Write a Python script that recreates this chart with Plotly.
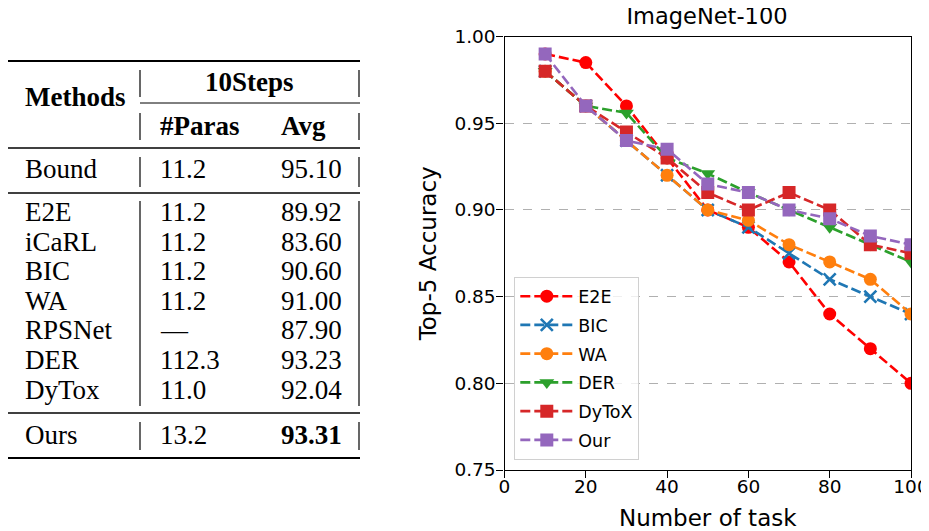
import plotly.graph_objects as go

# ---------------- data ----------------
tasks = [10, 20, 30, 40, 50, 60, 70, 80, 90, 100]
e2e   = [0.990, 0.985, 0.960, 0.930, 0.900, 0.890, 0.870, 0.840, 0.820, 0.800]
bic   = [0.980, 0.960, 0.940, 0.920, 0.900, 0.890, 0.875, 0.860, 0.850, 0.840]
wa    = [0.980, 0.960, 0.940, 0.920, 0.900, 0.894, 0.880, 0.870, 0.860, 0.840]
der   = [0.980, 0.960, 0.956, 0.930, 0.921, 0.910, 0.900, 0.890, 0.880, 0.870]
dytox = [0.980, 0.960, 0.945, 0.930, 0.910, 0.900, 0.910, 0.900, 0.880, 0.875]
our   = [0.990, 0.960, 0.940, 0.935, 0.915, 0.910, 0.900, 0.895, 0.885, 0.880]

series_names = ["E2E", "BIC", "WA", "DER", "DyToX", "Our"]
series_vals = [e2e, bic, wa, der, dytox, our]
series_colors = ["#ff0000", "#1f77b4", "#ff7f0e", "#2ca02c", "#d62728", "#9467bd"]
series_symbols = ["circle", "x-thin", "circle", "triangle-down", "square", "square"]

y_ticks = [0.75, 0.80, 0.85, 0.90, 0.95, 1.00]
x_ticks = [0, 20, 40, 60, 80, 100]

# table data
tbl_methods = ["E2E", "iCaRL", "BIC", "WA", "RPSNet", "DER", "DyTox"]
tbl_paras = ["11.2", "11.2", "11.2", "11.2", "—", "112.3", "11.0"]
tbl_avg = ["89.92", "83.60", "90.60", "91.00", "87.90", "93.23", "92.04"]
bound_row = ["Bound", "11.2", "95.10"]
ours_row = ["Ours", "13.2", "93.31"]

# ---------------- layout helpers ----------------
# the page body has an 8px margin, so the figure is drawn 8px smaller and
# positions below are given in the reference's window pixels.
OFF = 8
W, H = 929 - OFF, 531 - OFF
def px(x):
    return max(0.0, (x - OFF) / W)
def py(y):
    return 1 - (y - OFF) / H

fig = go.Figure()

for name, vals, col, sym in zip(series_names, series_vals, series_colors, series_symbols):
    is_x = sym == "x-thin"
    fig.add_trace(go.Scatter(
        x=tasks, y=vals, name=name, mode="lines+markers",
        line=dict(color=col, width=2.6, dash="10px,4px"),
        marker=dict(symbol=sym, size=12 if is_x else 13, color=col,
                    line=dict(color=col, width=2.6 if is_x else 0)),
        legendgroup=name,
    ))

# ---------------- table ----------------
ann = []
shapes = []
SERIF = "Liberation Serif"
FS = 27

def txt(x, y, s, anchor="left", bold=False):
    ann.append(dict(xref="paper", yref="paper", x=px(x), y=py(y), text=(f"<b>{s}</b>" if bold else s),
                    showarrow=False, xanchor=anchor, yanchor="middle",
                    font=dict(family=SERIF, size=FS, color="black")))

def hline(x0, x1, y, w):
    shapes.append(dict(type="line", xref="paper", yref="paper", x0=px(x0), x1=px(x1), y0=py(y), y1=py(y),
                       line=dict(color="black", width=w)))

def vline(x, y0, y1, w=1.2):
    shapes.append(dict(type="line", xref="paper", yref="paper", x0=px(x), x1=px(x), y0=py(y0), y1=py(y1),
                       line=dict(color="black", width=w)))

COL1, COL2, COL3 = 23, 158, 279
VL, VR = 140, 359

hline(6, 360, 61, 2.2)
hline(140, 360, 103, 1)
hline(6, 360, 148, 1.3)
hline(6, 360, 193, 1.3)
hline(6, 360, 413, 1.3)
hline(6, 360, 458, 2.2)
for (a, b) in [(70, 97), (113, 140), (157, 187), (201, 406), (422, 450)]:
    vline(VL, a, b)
    vline(VR, a, b)

txt(COL1, 97, "Methods", bold=True)
txt(249.5, 82, "10Steps", anchor="center", bold=True)
txt(COL2, 126, "#Paras", bold=True)
txt(COL3, 126, "Avg", bold=True)

txt(COL1, 169, bound_row[0]); txt(COL2, 169, bound_row[1]); txt(COL3, 169, bound_row[2])
for i, (m, p, a) in enumerate(zip(tbl_methods, tbl_paras, tbl_avg)):
    y = 212 + i * 29.6
    txt(COL1, y, m); txt(COL2, y, p); txt(COL3, y, a)
txt(COL1, 435, ours_row[0]); txt(COL2, 435, ours_row[1]); txt(COL3, 435, ours_row[2], bold=True)

# ---------------- axes ----------------
SANS = "DejaVu Sans"
fig.update_layout(
    width=W, height=H, margin=dict(l=0, r=0, t=0, b=0, autoexpand=False),
    paper_bgcolor="white", plot_bgcolor="white",
    font=dict(family=SANS, color="black"),
    title=dict(text="ImageNet-100", x=px(707), y=py(8.5), xanchor="center", yanchor="top",
               font=dict(family=SANS, size=22.5, color="black")),
    xaxis=dict(domain=[px(504.5), px(911)], range=[0, 100], tickvals=x_ticks,
               ticks="outside", ticklen=7, tickwidth=1.2, tickcolor="black",
               showline=True, linecolor="black", linewidth=1.3, mirror=True,
               showgrid=False, zeroline=False, tickfont=dict(size=18.5),
               ticklabelstandoff=-7, automargin=False,
               title=dict(text="Number of task", font=dict(size=23), standoff=16)),
    yaxis=dict(domain=[py(470), py(36.6)], range=[0.75, 1.00], tickvals=y_ticks,
               tickformat=".2f",
               ticks="outside", ticklen=7, tickwidth=1.2, tickcolor="black",
               showline=True, linecolor="black", linewidth=1.3, mirror=True,
               showgrid=True, gridcolor="#b0b0b0", griddash="dash", gridwidth=1,
               zeroline=False, tickfont=dict(size=18.5), automargin=False,
               ticklabelstandoff=-3,
               title=dict(text="Top-5 Accuracy", font=dict(size=23), standoff=11)),
    legend=dict(x=px(514), y=py(277), xanchor="left", yanchor="top",
                bgcolor="rgba(255,255,255,0.8)", bordercolor="#d0d0d0", borderwidth=1.3,
                font=dict(family=SANS, size=17.5, color="black"),
                tracegroupgap=3, itemwidth=53),
    annotations=ann, shapes=shapes,
    showlegend=True,
)

fig.write_html("out.html")
